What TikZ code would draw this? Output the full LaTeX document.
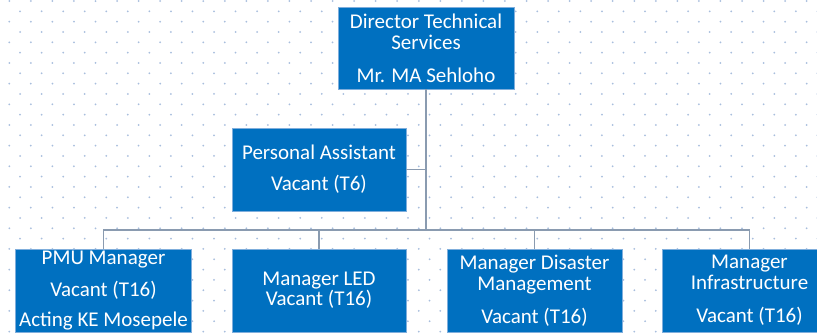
\documentclass[tikz,border=0pt]{standalone}
\usepackage{fontspec}
\setmainfont{Carlito}
\definecolor{boxblue}{HTML}{0070C0}
\definecolor{boxedge}{HTML}{7FAEDC}
\definecolor{linegray}{HTML}{8A9BB0}
\definecolor{dotblue}{HTML}{A8BEDD}
\tikzset{
  orgbox/.style={rectangle, fill=boxblue, draw=boxedge, line width=0.8bp,
    minimum width=175bp, minimum height=83bp, inner sep=0pt,
    text=white, align=center,
    font=\fontsize{21bp}{21bp}\selectfont},
  conn/.style={draw=linegray, line width=1.8bp}
}
\begin{document}
\begin{tikzpicture}[x=1bp,y=-1bp]
\useasboundingbox (0,0) rectangle (817,334);
\fill[white] (0,0) rectangle (817,334);
% dot grid
\foreach \j in {0,...,16}{
  \foreach \i in {0,...,38}{
    \fill[dotblue] ({9.3+21.55*\i},{1+20.66*\j}) circle (1bp);
    \fill[dotblue] ({20.07+21.55*\i},{11.33+20.66*\j}) circle (1bp);
  }
}
% boxes
\node[orgbox, minimum width=176bp, minimum height=82bp] (dir) at (426,48)
  {Director Technical\\Services\\[12bp]Mr. MA Sehloho};
\node[orgbox, minimum width=174bp] (pa) at (319,169.5)
  {Personal Assistant\\[10bp]Vacant (T6)};
\node[orgbox, minimum width=176bp] (pmu) at (103.5,290.5)
  {PMU Manager\\[11bp]Vacant (T16)\\[9bp]Acting KE Mosepele};
\node[orgbox, minimum width=174bp] (led) at (319,290.5)
  {Manager LED\\[-1bp]Vacant (T16)};
\node[orgbox] (dis) at (534.5,290.5)
  {Manager Disaster\\Management\\[12bp]Vacant (T16)};
\node[orgbox] (inf) at (749.5,290.5)
  {Manager\\Infrastructure\\[12bp]Vacant (T16)};
% connectors
\coordinate (bus) at (426,230);
\coordinate (pajoin) at (426,169.5);
\draw[conn] (dir.south) -- (bus);
\draw[conn] (pa.east) -- (pajoin);
\draw[conn] (pmu.north) -- (pmu.north |- bus) -- (inf.north |- bus) -- (inf.north);
\draw[conn] (led.north) -- (led.north |- bus);
\draw[conn] (dis.north) -- (dis.north |- bus);
\end{tikzpicture}
\end{document}
